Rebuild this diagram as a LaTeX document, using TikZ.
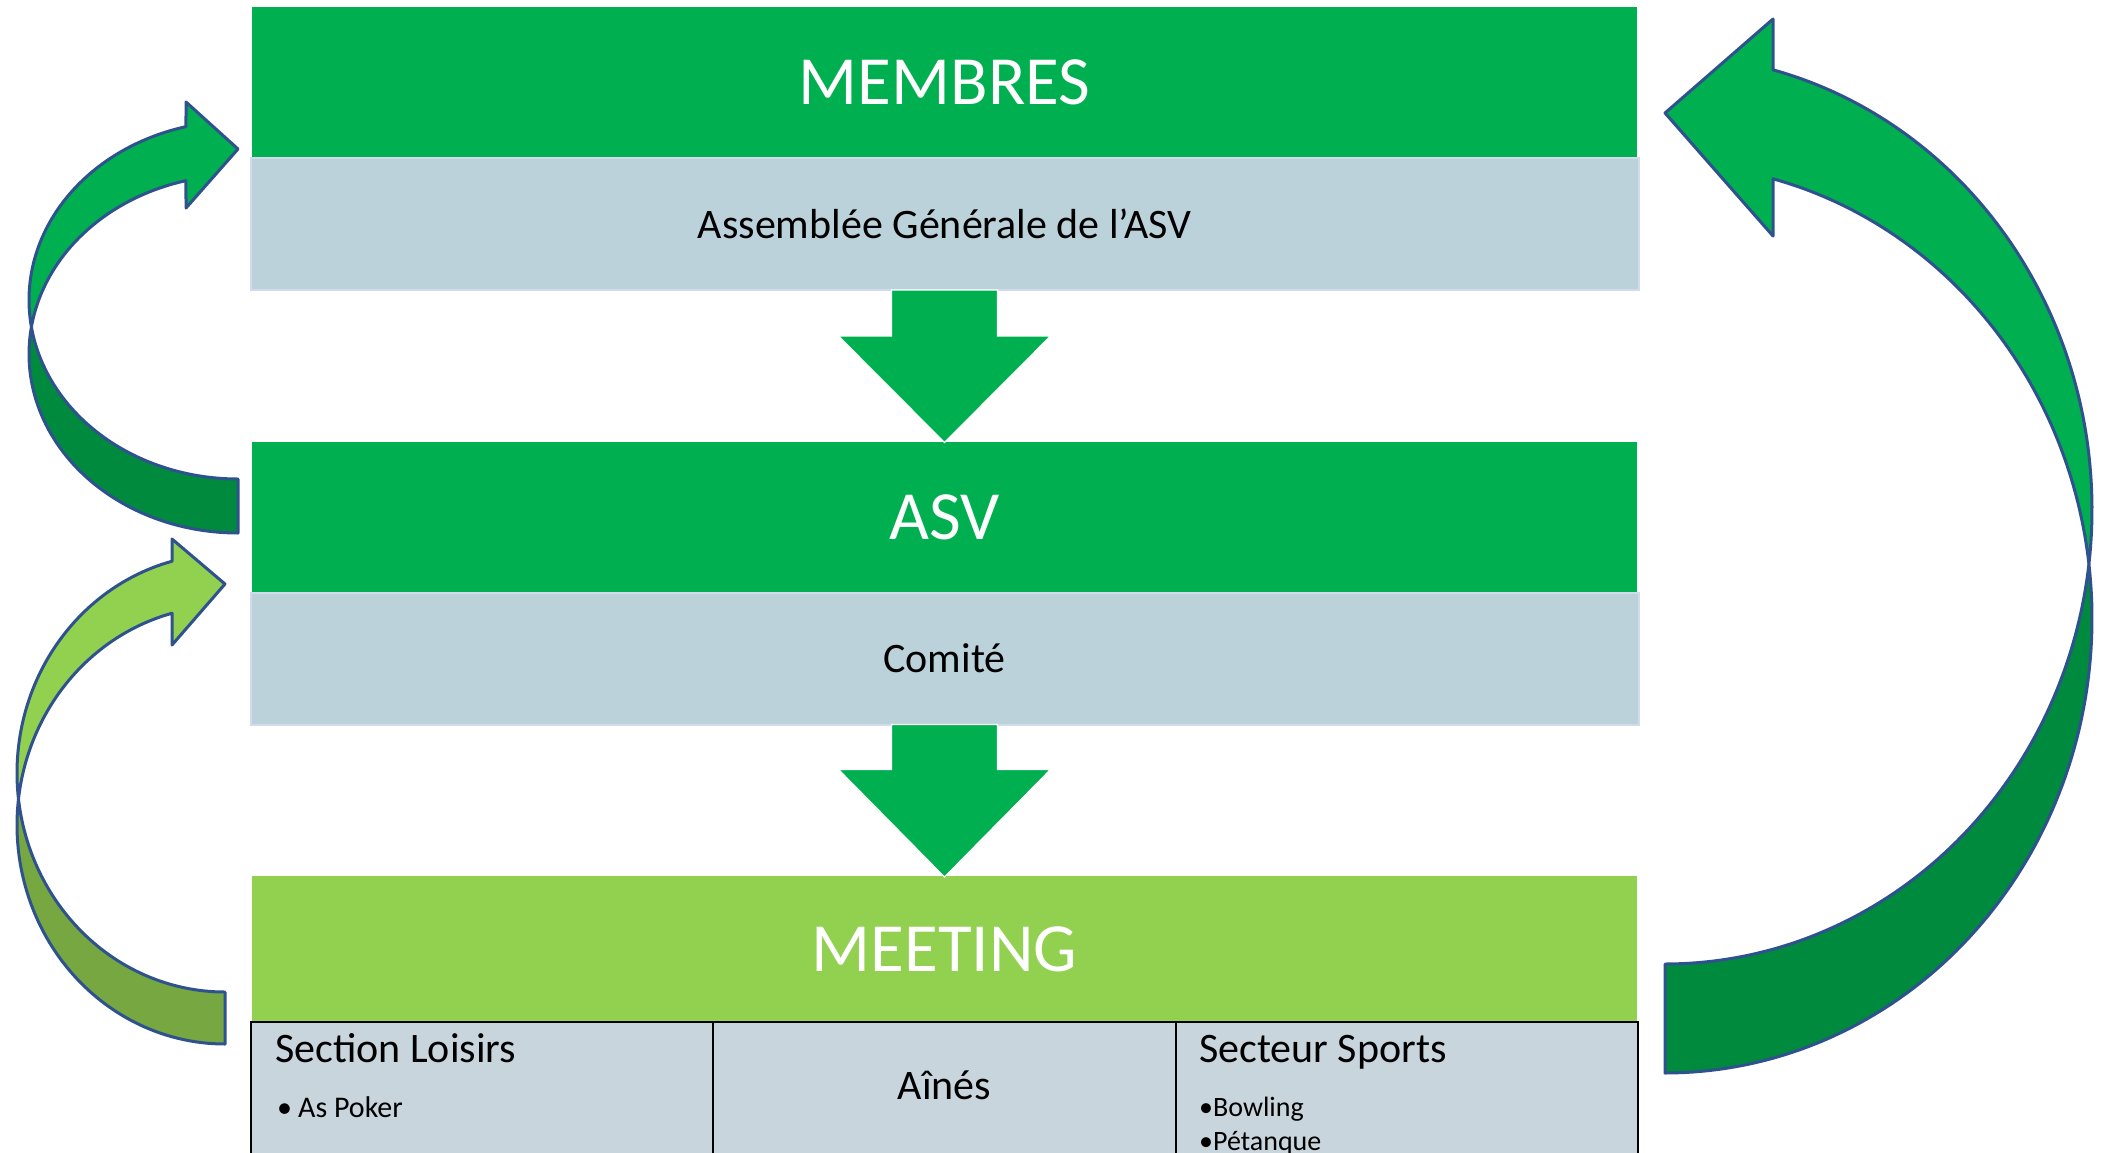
\documentclass[tikz,border=0pt]{standalone}
\usepackage{fontspec}
\setmainfont{Carlito}
\usetikzlibrary{calc}
\definecolor{grA}{HTML}{00B050}
\definecolor{grAdark}{HTML}{008A3E}
\definecolor{grB}{HTML}{92D050}
\definecolor{grBdark}{HTML}{76A740}
\definecolor{grayA}{HTML}{BBD2DB}
\definecolor{grayB}{HTML}{C9D5DC}
\definecolor{outl}{HTML}{2F528F}
\definecolor{edgeA}{HTML}{D3DAEE}
\tikzset{
  hdr/.style={inner sep=0, outer sep=0, text=white, font=\fontsize{69}{80}\selectfont, minimum width=1385, minimum height=151},
  sub/.style={inner sep=0, outer sep=0, fill=grayA, draw=edgeA, line width=2, font=\fontsize{42}{50}\selectfont, minimum width=1388, minimum height=132},
  cell/.style={inner sep=0, outer sep=0, fill=grayB, draw=black, line width=2.5, anchor=north west, minimum height=140},
  celltxt/.style={inner sep=0, anchor=base west, font=\fontsize{42}{50}\selectfont},
  bul/.style={inner sep=0, anchor=base west, font=\fontsize{30}{36}\selectfont},
  downarrow/.style={fill=grA, draw=white, line width=1.2},
  curved/.style={draw=outl, line width=3, line join=round}
}
\begin{document}
\begin{tikzpicture}[x=1pt,y=-1pt]
\useasboundingbox (0,0) rectangle (2106,1152);
\fill[white] (0,0) rectangle (2106,1152);

% ---- boxes
\node[hdr, fill=grA] (membres) at (944.5,82.5) {MEMBRES};
\node[sub] (assemblee) at (944.5,224) {Assemblée Générale de l’ASV};
\node[hdr, fill=grA] (asv) at (944.5,517) {ASV};
\node[sub] (comite) at (944.5,658.5) {Comité};
\node[hdr, fill=grB, minimum height=146] (meeting) at (944.5,949) {MEETING};

\node[cell, minimum width=462] (loisirs) at (251,1022) {};
\node[cell, minimum width=463] (aines) at (713,1022) {};
\node[cell, minimum width=462] (sports) at (1176,1022) {};

\node[celltxt] (tloisirs) at (275,1062) {Section Loisirs};
\node[bul] (tpoker) at (277,1117) {•\hspace{6pt}As Poker};
\node[inner sep=0, font=\fontsize{42}{50}\selectfont] (taines) at (944.5,1085) {Aînés};
\node[celltxt] (tsports) at (1199,1062) {Secteur Sports};
\node[bul, font=\fontsize{28}{34}\selectfont] (tbowling) at (1199,1116) {•Bowling};
\node[bul, font=\fontsize{28}{34}\selectfont] (tpetanque) at (1199,1150) {•Pétanque};

% ---- straight down arrows
\filldraw[downarrow] ($(assemblee.south)+(-53,0)$) -- ($(assemblee.south)+(53,0)$) -- ($(assemblee.south)+(53,46)$)
  -- ($(assemblee.south)+(106,46)$) -- ($(asv.north)+(0,1)$) -- ($(assemblee.south)+(-106,46)$)
  -- ($(assemblee.south)+(-53,46)$) -- cycle;
\filldraw[downarrow] ($(comite.south)+(-53,0)$) -- ($(comite.south)+(53,0)$) -- ($(comite.south)+(53,45)$)
  -- ($(comite.south)+(106,45)$) -- ($(meeting.north)+(0,1)$) -- ($(comite.south)+(-106,45)$)
  -- ($(comite.south)+(-53,45)$) -- cycle;

% ---- upper-left curved arrow (ASV -> MEMBRES)
\filldraw[curved, fill=grAdark]
  plot[domain=188.67:90, samples=60, variable=\t] ({238+209*cos(\t)},{354+179*sin(\t)})
  -- plot[domain=90:171.33, samples=60, variable=\t] ({238+209*cos(\t)},{300+179*sin(\t)})
  -- cycle;
\filldraw[curved, fill=grA]
  plot[domain=255.59:171.33, samples=60, variable=\t] ({238+209*cos(\t)},{300+179*sin(\t)})
  -- plot[domain=188.67:255.59, samples=60, variable=\t] ({238+209*cos(\t)},{354+179*sin(\t)})
  -- (186,208) -- (238,149) -- (186,102) -- cycle;

% ---- lower-left curved arrow (MEETING -> ASV)
\filldraw[curved, fill=grBdark]
  plot[domain=186.82:90, samples=60, variable=\t] ({225+208*cos(\t)},{825+219*sin(\t)})
  -- plot[domain=90:173.18, samples=60, variable=\t] ({225+208*cos(\t)},{773+219*sin(\t)})
  -- cycle;
\filldraw[curved, fill=grB]
  plot[domain=255.24:173.18, samples=60, variable=\t] ({225+208*cos(\t)},{773+219*sin(\t)})
  -- plot[domain=186.82:255.24, samples=60, variable=\t] ({225+208*cos(\t)},{825+219*sin(\t)})
  -- (172,645) -- (225,584) -- (172,539) -- cycle;

% ---- right curved arrow (MEETING -> MEMBRES)
\filldraw[curved, fill=grAdark]
  plot[domain=-6.89:90, samples=80, variable=\t] ({1665+427*cos(\t)},{618.5+454.5*sin(\t)})
  -- plot[domain=90:6.89, samples=80, variable=\t] ({1665+427*cos(\t)},{509.5+454.5*sin(\t)})
  -- cycle;
\filldraw[curved, fill=grA]
  plot[domain=-75.35:6.89, samples=80, variable=\t] ({1665+427*cos(\t)},{509.5+454.5*sin(\t)})
  -- plot[domain=-6.89:-75.35, samples=80, variable=\t] ({1665+427*cos(\t)},{618.5+454.5*sin(\t)})
  -- (1773,236) -- (1665,113) -- (1773,19) -- cycle;
\end{tikzpicture}
\end{document}
